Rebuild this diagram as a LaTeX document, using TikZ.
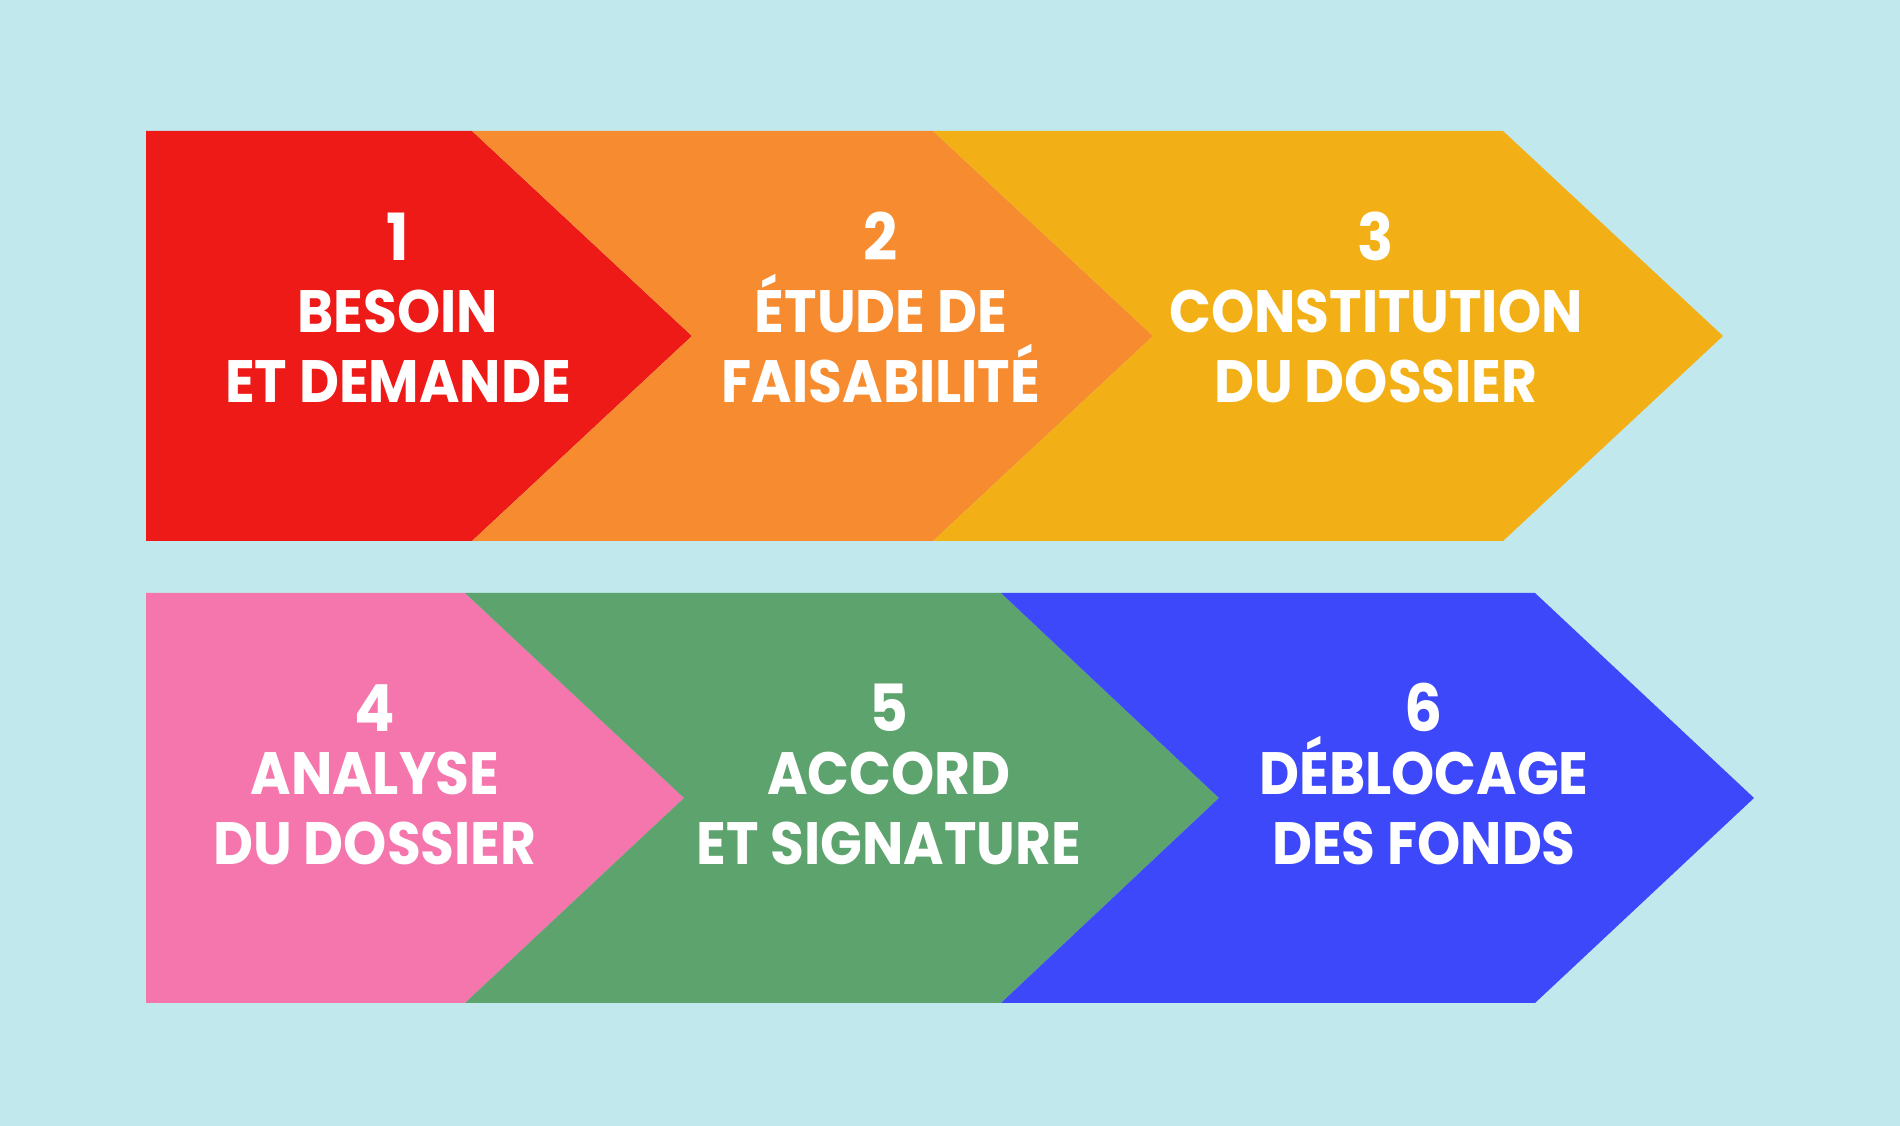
\documentclass[tikz,border=0pt]{standalone}
\usepackage{fontspec}
\setmainfont{Poppins}[FakeStretch=0.92]
\usepackage{tikz}
\usetikzlibrary{positioning}

\definecolor{bgcyan}{RGB}{192,232,237}
\definecolor{stepred}{RGB}{238,26,23}
\definecolor{steporange}{RGB}{247,139,47}
\definecolor{stepyellow}{RGB}{243,176,22}
\definecolor{steppink}{RGB}{244,118,172}
\definecolor{stepgreen}{RGB}{93,163,110}
\definecolor{stepblue}{RGB}{60,72,250}

\begin{document}
\begin{tikzpicture}[x=0.1mm, y=-0.1mm,
    num/.style={anchor=base, text=white, inner sep=0pt, font=\fontsize{18.5}{20}\selectfont\bfseries},
    lbl/.style={anchor=base, text=white, inner sep=0pt, font=\fontsize{17}{18}\selectfont\bfseries}]
        \fill[bgcyan] (0,0) rectangle (1900,1126);
        \useasboundingbox (0,0) rectangle (1900,1126);

        % first row
        \fill[stepred] (146,131) -- (472,131) -- (692,336) -- (472,541) -- (146,541) -- cycle;
        \fill[steporange] (472,131) -- (933,131) -- (1153,336) -- (933,541) -- (472,541) -- (692,336) -- cycle;
        \fill[stepyellow] (933,131) -- (1503,131) -- (1723,336) -- (1503,541) -- (933,541) -- (1153,336) -- cycle;

        % second row
        \fill[steppink] (146,593) -- (465,593) -- (684,798) -- (465,1003) -- (146,1003) -- cycle;
        \fill[stepgreen] (465,593) -- (1001,593) -- (1219,798) -- (1001,1003) -- (465,1003) -- (684,798) -- cycle;
        \fill[stepblue] (1001,593) -- (1535,593) -- (1754,798) -- (1535,1003) -- (1001,1003) -- (1219,798) -- cycle;

        \node[num] (n1) at (398,261) {1};
        \node[lbl] (a1) at (398,333) {BESOIN};
        \node[lbl] (b1) at (398,403) {ET DEMANDE};

        \node[num] (n2) at (881,261) {2};
        \node[lbl] (a2) at (881,333) {ÉTUDE DE};
        \node[lbl] (b2) at (881,403) {FAISABILITÉ};

        \node[num] (n3) at (1376,261) {3};
        \node[lbl] (a3) at (1376,333) {CONSTITUTION};
        \node[lbl] (b3) at (1376,403) {DU DOSSIER};

        \node[num] (n4) at (375,732) {4};
        \node[lbl] (a4) at (375,795) {ANALYSE};
        \node[lbl] (b4) at (375,865) {DU DOSSIER};

        \node[num] (n5) at (889,732) {5};
        \node[lbl] (a5) at (889,795) {ACCORD};
        \node[lbl] (b5) at (889,865) {ET SIGNATURE};

        \node[num] (n6) at (1424,732) {6};
        \node[lbl] (a6) at (1424,795) {DÉBLOCAGE};
        \node[lbl] (b6) at (1424,865) {DES FONDS};
    \end{tikzpicture}
\end{document}
